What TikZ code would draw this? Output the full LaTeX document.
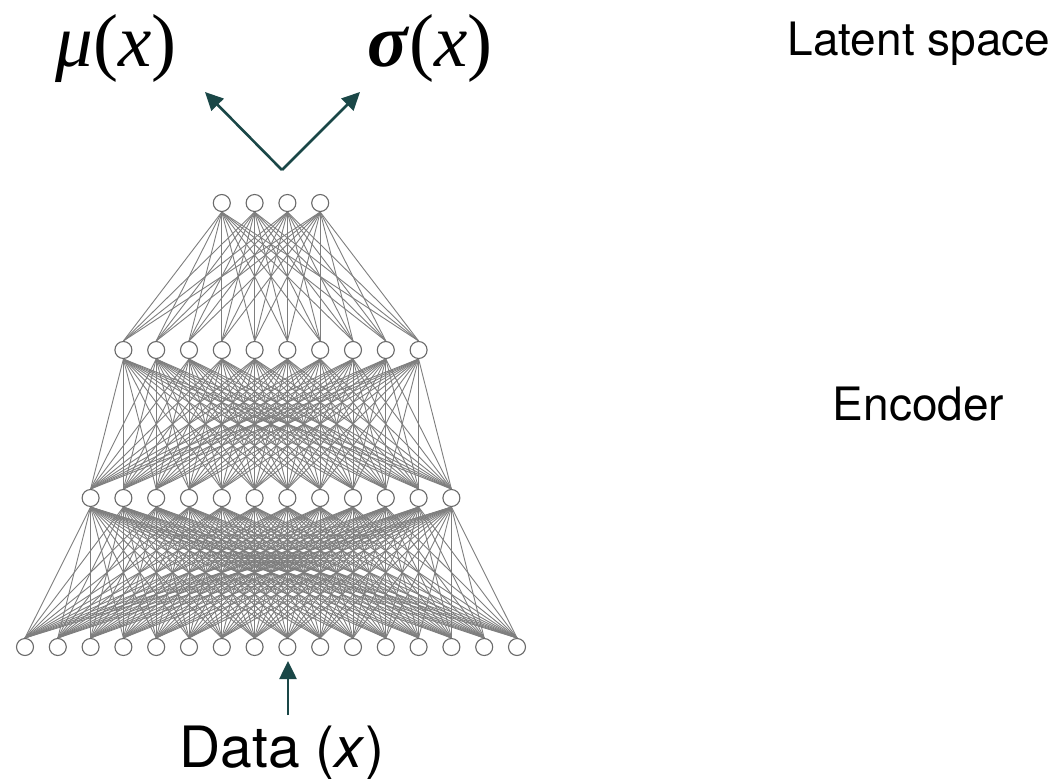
\documentclass[tikz,border=0pt]{standalone}
\usepackage{fontspec}
\setmainfont{TeX Gyre Heros}
\newfontfamily\timesfont{Liberation Serif}
\usetikzlibrary{arrows.meta,backgrounds}
\definecolor{edgegray}{HTML}{7E7E7E}
\definecolor{nodegray}{HTML}{6A6A6A}
\definecolor{teal}{HTML}{1A4747}
\tikzset{
  neuron/.style={circle,draw=nodegray,line width=1.1pt,fill=white,minimum size=17pt,inner sep=0pt},
  link/.style={edgegray,line width=0.9pt},
  flow/.style={teal,line width=2.6pt,-{Triangle[length=18pt,width=17pt]}},
  label/.style={anchor=base,inner sep=0pt,font=\fontsize{46}{50}\selectfont},
}
\begin{document}
\begin{tikzpicture}[x=1pt,y=-1pt]
\useasboundingbox (0,0) rectangle (1063,779);
% layers
\foreach \k in {1,...,16} {\node[neuron] (a\k) at ({25+(\k-1)*32.8},647) {};}
\foreach \k in {3,...,14} {\node[neuron] (b\k) at ({25+(\k-1)*32.8},498) {};}
\foreach \k in {4,...,13} {\node[neuron] (c\k) at ({25+(\k-1)*32.8},350) {};}
\foreach \k in {7,...,10} {\node[neuron] (d\k) at ({25+(\k-1)*32.8},203) {};}
\begin{pgfonlayer}{background}
\foreach \i in {1,...,16} {\foreach \j in {3,...,14} {\draw[link] (a\i.north) -- (b\j.south);}}
\foreach \i in {3,...,14} {\foreach \j in {4,...,13} {\draw[link] (b\i.north) -- (c\j.south);}}
\foreach \i in {4,...,13} {\foreach \j in {7,...,10} {\draw[link] (c\i.north) -- (d\j.south);}}
\end{pgfonlayer}
% outputs
\node[anchor=base,inner sep=0pt,font=\fontsize{75}{80}\selectfont\timesfont] (mu) at (116,66) {\textit{μ}(\textit{x})};
\node[anchor=base,inner sep=0pt,font=\fontsize{75}{80}\selectfont\timesfont] (sigma) at (430,66) {\textbf{\textit{σ}}(\textit{x})};
\coordinate (apex) at (282,170);
\coordinate (mutip) at (205,92);
\coordinate (sigtip) at (360,92);
\draw[flow] (apex) -- (mutip);
\draw[flow] (apex) -- (sigtip);
% input
\node[label,font=\fontsize{57}{62}\selectfont] (data) at (282,767) {Data (\textit{x})};
\coordinate (datatail) at (288,715);
\coordinate (datatip) at (288,661);
\draw[flow] (datatail) -- (datatip);
% side labels
\node[label] (latent) at (919,55) {Latent space};
\node[label] (encoder) at (918.5,420) {Encoder};
\end{tikzpicture}
\end{document}
